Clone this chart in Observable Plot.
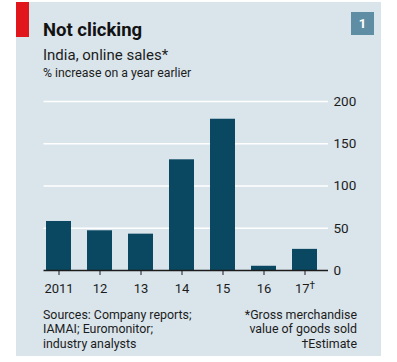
<!DOCTYPE html>
<html>
<head>
<meta charset="utf-8">
<script src="https://cdn.jsdelivr.net/npm/d3@7"></script>
<script src="https://cdn.jsdelivr.net/npm/@observablehq/plot@0.6"></script>
<style>
  html, body { margin: 0; padding: 0; background: #ffffff; }
  body { width: 397px; height: 362px; position: relative; overflow: hidden; font-family: Roboto, "Noto Sans", sans-serif; color: #1c1c1c; }
  #panel { position: absolute; left: 16px; top: 2px; width: 365px; height: 354px; background: #d9e4eb; }
  #redbar { position: absolute; left: 16px; top: 2px; width: 13px; height: 35px; background: #e1161c; }
  #badge { position: absolute; left: 351px; top: 12px; width: 23px; height: 23px; background: #5f8da4; color: #fff; font-weight: 700; font-size: 13px; line-height: 23px; text-align: center; }
  .t { position: absolute; white-space: nowrap; }
  #title { left: 43px; top: 21px; font-size: 18.5px; line-height: 18.5px; font-weight: 700; color: #121212; }
  #subtitle { left: 43px; top: 47.5px; font-size: 15px; line-height: 15px; }
  #unit { left: 43px; top: 66.5px; font-size: 12.3px; line-height: 12.5px; }
  #src { left: 43px; top: 307.5px; font-size: 12.4px; line-height: 14.5px; }
  #notes { right: 40px; top: 307.5px; font-size: 12.4px; line-height: 14.5px; text-align: right; }
  #chart { position: absolute; left: 0; top: 90px; }
</style>
</head>
<body>
<div id="panel"></div>
<div id="redbar"></div>
<div id="badge">1</div>
<div class="t" id="title">Not clicking</div>
<div class="t" id="subtitle">India, online sales*</div>
<div class="t" id="unit">% increase on a year earlier</div>
<div id="chart"></div>
<div class="t" id="src">Sources: Company reports;<br>IAMAI; Euromonitor;<br>industry analysts</div>
<div class="t" id="notes">*Gross merchandise<br>value of goods sold<br>†Estimate</div>
<script>
const years = ["2011", "2012", "2013", "2014", "2015", "2016", "2017"];
const tickLabels = ["2011", "12", "13", "14", "15", "16", "17†"];
const growth = [58, 47, 43, 131, 179, 5, 25];
const yTicks = [0, 50, 100, 150, 200];
const gridTicks = [50, 100, 150, 200];

const data = years.map((y, i) => ({year: y, value: growth[i]}));
const labelOf = new Map(years.map((y, i) => [y, tickLabels[i]]));

const chart = Plot.plot({
  width: 397,
  height: 215,
  marginLeft: 43.5,
  marginRight: 69,
  marginTop: 11,
  marginBottom: 35,
  style: {background: "transparent", fontFamily: "Roboto, 'Noto Sans', sans-serif", fontSize: "13px", color: "#1c1c1c", overflow: "visible"},
  x: {domain: years, range: [43.5, 320.2], paddingInner: 0.393, paddingOuter: 0.053, label: null},
  y: {domain: [0, 200], label: null},
  marks: [
    Plot.ruleY(gridTicks, {stroke: "#ffffff", strokeWidth: 1.6}),
    Plot.barY(data, {x: "year", y: "value", fill: "#0a4862"}),
    Plot.ruleY([0], {stroke: "#1c1c1c", strokeWidth: 1.3}),
    Plot.axisX({tickSize: 5, tickPadding: 8, stroke: "#1c1c1c", tickFormat: d => labelOf.get(d), fontSize: 13, label: null}),
    Plot.axisY({anchor: "right", ticks: yTicks, tickSize: 0, tickPadding: 5, fontSize: 13.5, label: null})
  ]
});
document.getElementById("chart").appendChild(chart);

// render the dagger of the last tick label as a superscript
d3.select(chart).selectAll("text").each(function() {
  const t = d3.select(this);
  const s = t.text();
  if (s.endsWith("†")) {
    t.text(null);
    t.append("tspan").text(s.slice(0, -1));
    t.append("tspan").attr("dy", "-0.35em").attr("font-size", "10px").text("†");
  }
});
</script>
</body>
</html>
